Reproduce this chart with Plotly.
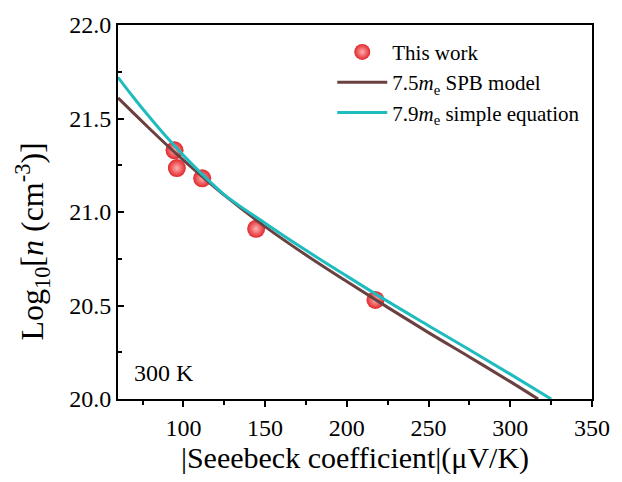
import plotly.graph_objects as go

# Experimental points (|S| in uV/K, log10 n)
seebeck_exp = [94.6, 96.0, 111.5, 144.5, 217.5]
logn_exp = [21.33, 21.235, 21.18, 20.91, 20.53]

# 7.5 m_e SPB model curve
spb_x = [60, 70, 80, 90, 100, 110, 125, 150, 175, 200, 225, 250, 275, 300, 317]
spb_y = [21.61, 21.525, 21.44, 21.357, 21.277, 21.201, 21.09, 20.922, 20.77, 20.628,
         20.49, 20.355, 20.225, 20.093, 20.0]

# 7.9 m_e simple equation curve
simple_x = [60, 70, 80, 90, 100, 110, 125, 150, 175, 200, 225, 250, 275, 300, 325]
simple_y = [21.72, 21.607, 21.500, 21.398, 21.303, 21.215, 21.093, 20.94, 20.795, 20.657,
            20.522, 20.392, 20.263, 20.133, 20.0]

x_ticks = [100, 150, 200, 250, 300, 350]
y_ticks = [20.0, 20.5, 21.0, 21.5, 22.0]

FONT = "Liberation Serif"

fig = go.Figure()
fig.add_trace(go.Scatter(
    x=seebeck_exp, y=logn_exp, mode="markers", name="This work",
    marker=dict(size=18, color="#e2262b",
                gradient=dict(type="radial", color="#ffb0b0"),
                line=dict(width=0)),
))
fig.add_trace(go.Scatter(
    x=spb_x, y=spb_y, mode="lines", name="7.5<i>m</i><sub>e</sub> SPB model",
    line=dict(color="#6b4040", width=3, shape="spline", smoothing=1.0),
))
fig.add_trace(go.Scatter(
    x=simple_x, y=simple_y, mode="lines", name="7.9<i>m</i><sub>e</sub> simple equation",
    line=dict(color="#1fbcbf", width=3, shape="spline", smoothing=1.0),
))

fig.add_annotation(
    text="300 K", xref="paper", yref="paper", x=0.03, y=0.07,
    xanchor="left", yanchor="middle", showarrow=False,
    font=dict(family=FONT, size=24, color="black"),
)

# y-axis title as annotation for precise placement
fig.add_annotation(
    text="Log<sub>10</sub>[<i>n</i> (cm<sup>-3</sup>)]", xref="paper", yref="paper",
    x=-0.18, y=0.42, xanchor="center", yanchor="middle", textangle=-90,
    showarrow=False, font=dict(family=FONT, size=32, color="black"),
)

fig.update_layout(
    width=622, height=482,
    margin=dict(l=118, r=23, t=24, b=83),
    paper_bgcolor="white", plot_bgcolor="white",
    font=dict(family=FONT, size=24, color="black"),
    showlegend=True,
    legend=dict(
        x=0.452, y=0.982, xanchor="left", yanchor="top",
        bgcolor="rgba(0,0,0,0)", borderwidth=0,
        font=dict(family=FONT, size=21, color="black"),
        itemwidth=50, tracegroupgap=0,
    ),
    xaxis=dict(
        range=[60, 350], tickvals=x_ticks, ticktext=[str(v) for v in x_ticks],
        showgrid=False, zeroline=False,
        showline=True, linecolor="black", linewidth=2, mirror=True,
        ticks="outside", ticklen=6, tickwidth=2, tickcolor="black",
        minor=dict(tickvals=[75, 125, 175, 225, 275, 325], ticks="outside",
                   ticklen=4, tickwidth=2, tickcolor="black"),
        tickfont=dict(family=FONT, size=24),
        title=dict(text="|Seeebeck coefficient|(μV/K)",
                   font=dict(family=FONT, size=30), standoff=6),
    ),
    yaxis=dict(
        range=[20, 22], tickvals=y_ticks, ticktext=[f"{v:.1f}" for v in y_ticks],
        showgrid=False, zeroline=False,
        showline=True, linecolor="black", linewidth=2, mirror=True,
        ticks="inside", ticklen=6, tickwidth=2, tickcolor="black",
        minor=dict(tickvals=[20.25, 20.75, 21.25, 21.75], ticks="inside",
                   ticklen=4, tickwidth=2, tickcolor="black"),
        tickfont=dict(family=FONT, size=24),
    ),
)

fig.write_html("out.html")
